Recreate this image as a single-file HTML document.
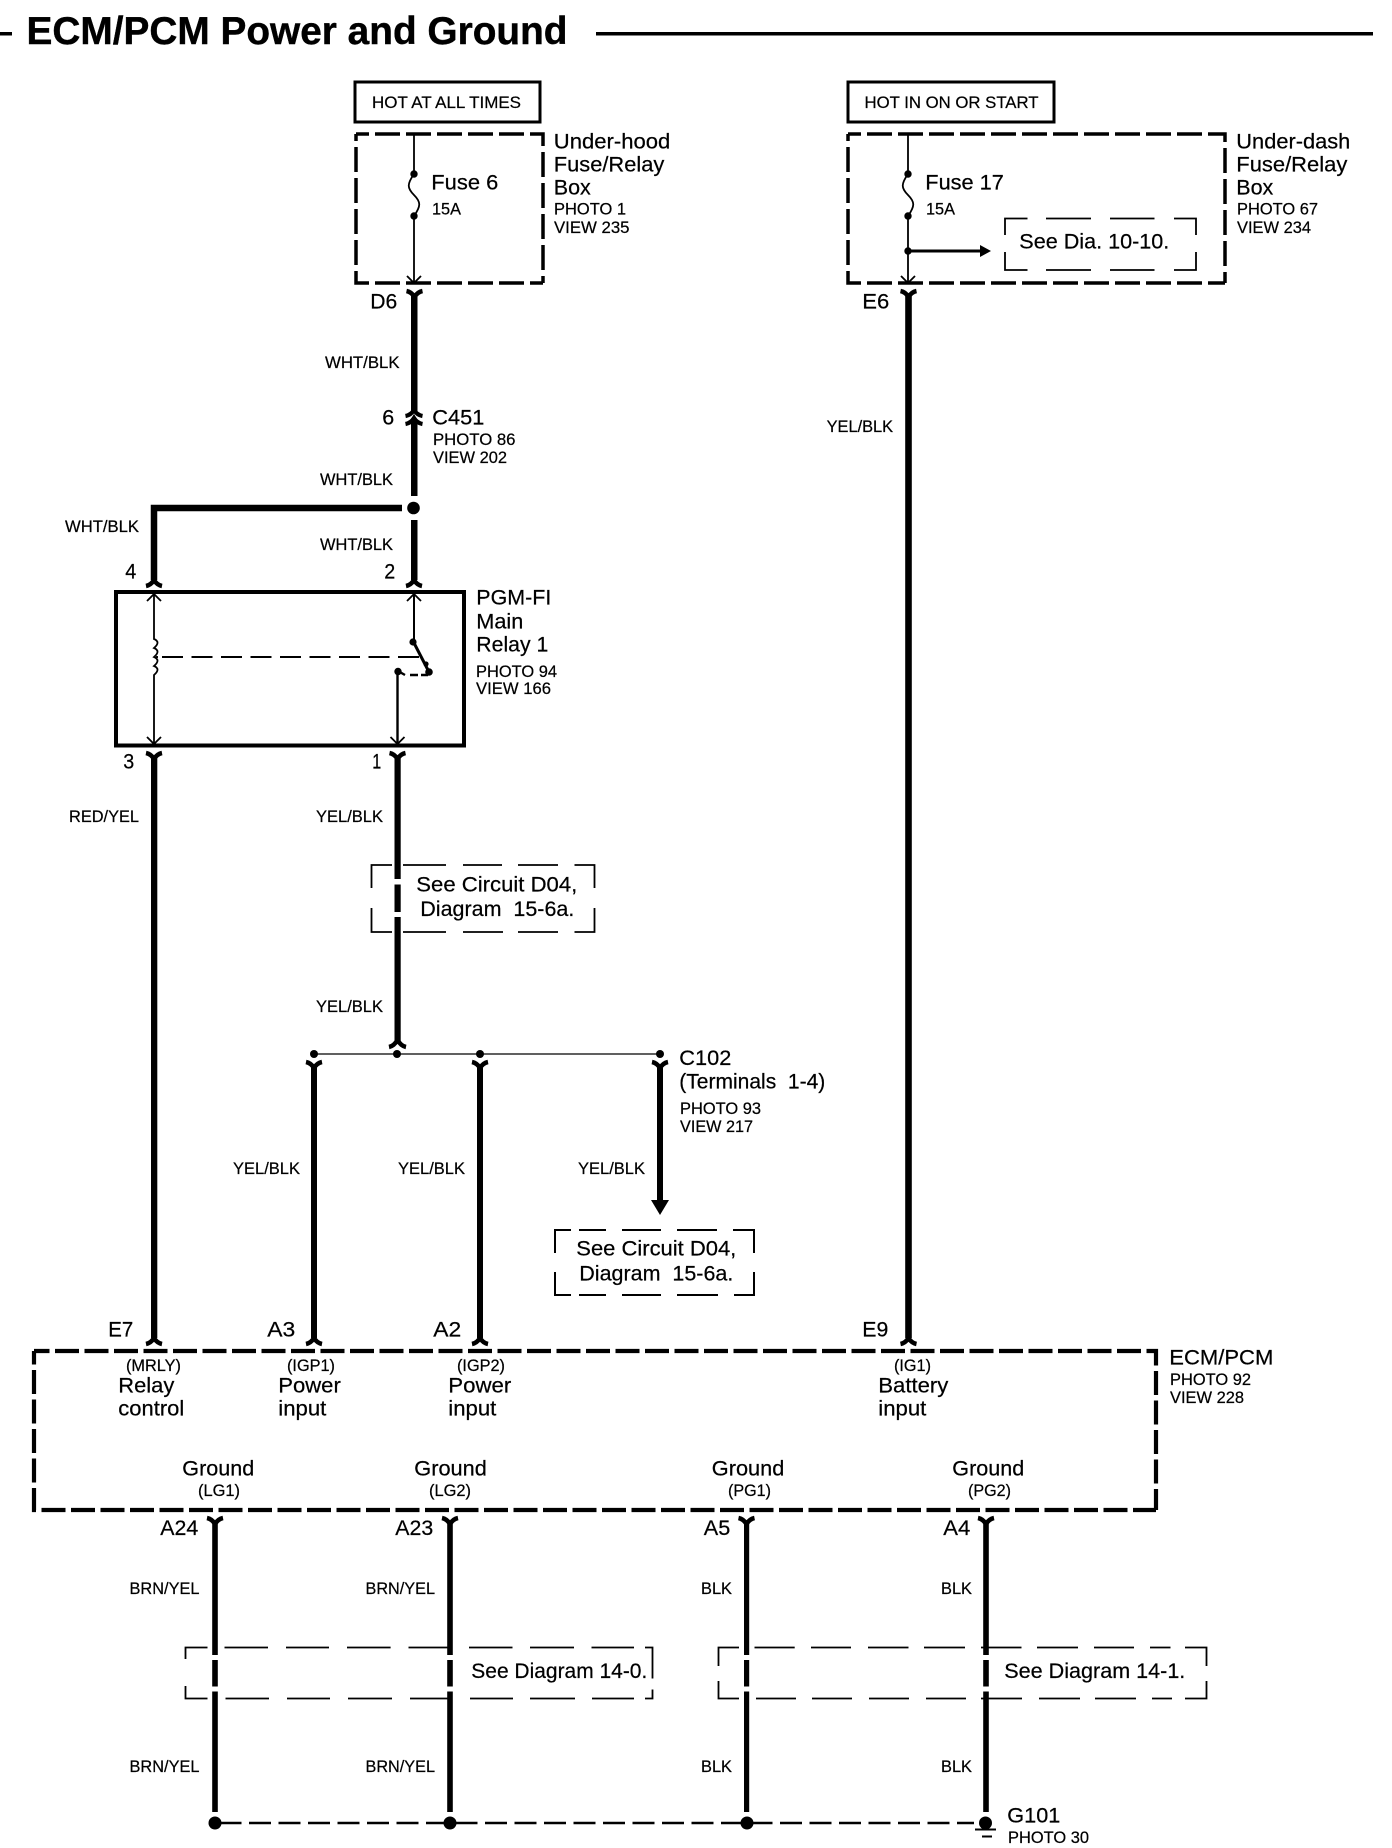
<!DOCTYPE html>
<html><head><meta charset="utf-8"><title>ECM/PCM Power and Ground</title>
<style>
html,body{margin:0;padding:0;background:#fff}
svg{display:block}
text{font-family:"Liberation Sans",sans-serif;fill:#000;stroke:#000;stroke-width:.22px}
.s{font-size:16.4px}
.m{font-size:21.5px;transform:translate(-.7px,-.5px)}
.b{font-size:38.6px;font-weight:bold;stroke-width:.4px}
</style></head><body>
<svg xmlns="http://www.w3.org/2000/svg" width="1392" height="1848" viewBox="0 0 1392 1848">
<defs>
<path id="fd" d="M-8,0 Q-3,1 0,6 Q3,1 8,0" fill="none" stroke="#000" stroke-width="4.5"/>
<path id="fu" d="M-8,8 Q-3,7 0,2 Q3,7 8,8" fill="none" stroke="#000" stroke-width="4.5"/>
<path id="ad" d="M-7,-7 L0,0 L7,-7" fill="none" stroke="#000" stroke-width="1.8"/>
<path id="au" d="M-7,7 L0,0 L7,7" fill="none" stroke="#000" stroke-width="1.8"/>
</defs>
<rect width="1392" height="1848" fill="#fff"/>

<!-- Title -->
<text class="b" x="26.5" y="44" textLength="541" lengthAdjust="spacingAndGlyphs">ECM/PCM Power and Ground</text>
<rect x="0" y="32" width="12" height="3.5"/>
<rect x="596" y="32" width="777" height="3.5"/>

<!-- Hot boxes -->
<rect x="355" y="82" width="185" height="40" fill="none" stroke="#000" stroke-width="3"/>
<text class="s" x="372" y="108" textLength="149" lengthAdjust="spacingAndGlyphs">HOT AT ALL TIMES</text>
<rect x="848" y="82" width="206" height="40" fill="none" stroke="#000" stroke-width="3"/>
<text class="s" x="864.5" y="108" textLength="174" lengthAdjust="spacingAndGlyphs">HOT IN ON OR START</text>

<!-- Under-hood box -->
<path d="M356,134 H543 V283" fill="none" stroke="#000" stroke-width="3.5" stroke-dasharray="25 6" stroke-dashoffset="12"/>
<path d="M356,134 V283 H543" fill="none" stroke="#000" stroke-width="3.5" stroke-dasharray="25 6" stroke-dashoffset="18"/>
<path d="M414,134 V174 C407,184 407,188 414,195 C421,202 421,206 414,216 V283" fill="none" stroke="#000" stroke-width="1.8"/>
<circle cx="414" cy="174" r="3.7"/><circle cx="414" cy="216" r="3.7"/>
<use href="#ad" x="414" y="283"/>
<text class="m" x="432" y="190" textLength="67" lengthAdjust="spacingAndGlyphs">Fuse 6</text>
<text class="s" x="432" y="214.6" textLength="29" lengthAdjust="spacingAndGlyphs">15A</text>
<text class="m" x="554.5" y="149" textLength="116.5" lengthAdjust="spacingAndGlyphs">Under-hood</text>
<text class="m" x="554.5" y="172.2" textLength="110.5" lengthAdjust="spacingAndGlyphs">Fuse/Relay</text>
<text class="m" x="554.5" y="195.1" textLength="37" lengthAdjust="spacingAndGlyphs">Box</text>
<text class="s" x="554" y="214.6" textLength="72" lengthAdjust="spacingAndGlyphs">PHOTO 1</text>
<text class="s" x="554" y="233" textLength="75.5" lengthAdjust="spacingAndGlyphs">VIEW 235</text>

<!-- Under-dash box -->
<path d="M848,134 H1225 V283" fill="none" stroke="#000" stroke-width="3.5" stroke-dasharray="25 6" stroke-dashoffset="12"/>
<path d="M848,134 V283 H1225" fill="none" stroke="#000" stroke-width="3.5" stroke-dasharray="25 6" stroke-dashoffset="18"/>
<path d="M908,134 V174 C901,184 901,188 908,195 C915,202 915,206 908,216 V283" fill="none" stroke="#000" stroke-width="1.8"/>
<circle cx="908" cy="174" r="3.7"/><circle cx="908" cy="216" r="3.7"/><circle cx="908" cy="251" r="3.7"/>
<use href="#ad" x="908" y="283"/>
<path d="M908,251 H981" stroke="#000" stroke-width="3" fill="none"/>
<path d="M980,245 L991,251 L980,257 Z"/>
<text class="m" x="926" y="190" textLength="78.5" lengthAdjust="spacingAndGlyphs">Fuse 17</text>
<text class="s" x="926" y="214.6" textLength="29" lengthAdjust="spacingAndGlyphs">15A</text>
<path d="M1005,235 V218.5 H1027.5 M1046,218.5 H1091 M1110,218.5 H1154.5 M1174,218.5 H1196 V235 M1005,252 V270 H1027.5 M1046,270 H1091 M1110,270 H1154.5 M1174,270 H1196 V252" fill="none" stroke="#000" stroke-width="1.8"/>
<text class="m" x="1020" y="249" textLength="150" lengthAdjust="spacingAndGlyphs">See Dia. 10-10.</text>
<text class="m" x="1237" y="149" textLength="114" lengthAdjust="spacingAndGlyphs">Under-dash</text>
<text class="m" x="1237" y="172.2" textLength="111" lengthAdjust="spacingAndGlyphs">Fuse/Relay</text>
<text class="m" x="1237" y="195.1" textLength="37" lengthAdjust="spacingAndGlyphs">Box</text>
<text class="s" x="1237" y="214.6" textLength="81" lengthAdjust="spacingAndGlyphs">PHOTO 67</text>
<text class="s" x="1237" y="233" textLength="74" lengthAdjust="spacingAndGlyphs">VIEW 234</text>

<!-- Wire x=414 -->
<use href="#fd" x="414.5" y="291"/>
<rect x="411" y="295" width="6.5" height="117"/>
<path d="M405.5,416 Q411,415 414,410 Q417,415 422.5,416" fill="none" stroke="#000" stroke-width="4.2"/>
<path d="M405.5,424 Q411,423 414,418 Q417,423 422.5,424" fill="none" stroke="#000" stroke-width="4.2"/>
<rect x="411" y="420" width="6.5" height="76"/>
<circle cx="413.5" cy="508" r="6.3"/>
<rect x="411" y="520" width="6.5" height="60"/>
<use href="#fu" x="414" y="578"/>
<text class="s" x="325" y="368" textLength="74.5" lengthAdjust="spacingAndGlyphs">WHT/BLK</text>
<text class="m" x="371" y="309" textLength="27" lengthAdjust="spacingAndGlyphs">D6</text>
<text class="m" x="383" y="425" textLength="12" lengthAdjust="spacingAndGlyphs">6</text>
<text class="m" x="433" y="425" textLength="52" lengthAdjust="spacingAndGlyphs">C451</text>
<text class="s" x="433" y="445" textLength="82.5" lengthAdjust="spacingAndGlyphs">PHOTO 86</text>
<text class="s" x="433" y="463" textLength="74" lengthAdjust="spacingAndGlyphs">VIEW 202</text>
<text class="s" x="320" y="485" textLength="73" lengthAdjust="spacingAndGlyphs">WHT/BLK</text>
<text class="s" x="320" y="550" textLength="73" lengthAdjust="spacingAndGlyphs">WHT/BLK</text>
<text class="s" x="65" y="532" textLength="74" lengthAdjust="spacingAndGlyphs">WHT/BLK</text>
<text class="m" x="126" y="579" textLength="11" lengthAdjust="spacingAndGlyphs">4</text>
<text class="m" x="385" y="579" textLength="11" lengthAdjust="spacingAndGlyphs">2</text>

<!-- Thick branch -->
<path d="M402,508 H154 V580" fill="none" stroke="#000" stroke-width="6.5"/>
<use href="#fu" x="154" y="578"/>

<!-- Relay -->
<rect x="116" y="592" width="348" height="153.5" fill="none" stroke="#000" stroke-width="4"/>
<path d="M154,594 V639 q7,3 0,9 q7,3 0,9 q7,3 0,9 q7,3 0,9 V745" fill="none" stroke="#000" stroke-width="1.8"/>
<use href="#au" x="154" y="594"/><use href="#ad" x="154" y="744"/>
<path d="M414,594 V642" fill="none" stroke="#000" stroke-width="2"/>
<use href="#au" x="414" y="594"/>
<circle cx="413" cy="642" r="3.6"/>
<path d="M413.5,642 L429,672" stroke="#000" stroke-width="3"/>
<circle cx="429" cy="672" r="3.8"/>
<circle cx="426" cy="664" r="2.6"/>
<path d="M162,657 H419" stroke="#000" stroke-width="1.9" stroke-dasharray="21 8.5" fill="none"/>
<path d="M156,657 H158" stroke="#000" stroke-width="1.9" fill="none"/>
<path d="M398,671 L405,675 M410,675 H418 M421,675 H428" stroke="#000" stroke-width="2.4" fill="none"/>
<circle cx="398" cy="671.5" r="3.7"/>
<path d="M397.5,671 V745" stroke="#000" stroke-width="2.4" fill="none"/>
<use href="#ad" x="397.5" y="744"/>
<text class="m" x="477" y="605" textLength="75" lengthAdjust="spacingAndGlyphs">PGM-FI</text>
<text class="m" x="477" y="629" textLength="47" lengthAdjust="spacingAndGlyphs">Main</text>
<text class="m" x="477" y="652" textLength="72" lengthAdjust="spacingAndGlyphs">Relay 1</text>
<text class="s" x="476" y="677" textLength="81" lengthAdjust="spacingAndGlyphs">PHOTO 94</text>
<text class="s" x="476" y="694" textLength="75" lengthAdjust="spacingAndGlyphs">VIEW 166</text>

<!-- Below relay -->
<use href="#fd" x="154" y="753"/>
<use href="#fd" x="397.5" y="753"/>
<text class="m" x="124" y="769" textLength="11" lengthAdjust="spacingAndGlyphs">3</text>
<text class="m" x="373" y="769" textLength="9" lengthAdjust="spacingAndGlyphs">1</text>
<rect x="151" y="757" width="6.3" height="581"/>
<use href="#fu" x="154" y="1336"/>
<rect x="394.5" y="757" width="6.2" height="284"/>
<path d="M389,1047 Q394,1046 397.5,1040 Q401,1046 406,1047" fill="none" stroke="#000" stroke-width="4.5"/>
<text class="s" x="69" y="822" textLength="70" lengthAdjust="spacingAndGlyphs">RED/YEL</text>
<text class="s" x="316" y="822" textLength="67" lengthAdjust="spacingAndGlyphs">YEL/BLK</text>
<text class="s" x="316" y="1012" textLength="67" lengthAdjust="spacingAndGlyphs">YEL/BLK</text>

<!-- D04 upper box -->
<rect x="392" y="879" width="11" height="5.5" fill="#fff"/>
<rect x="392" y="912" width="11" height="5" fill="#fff"/>
<path d="M371.5,888 V865 H392 M403,865 H446 M463,865 H502 M518,865 H558 M574.5,865 H594.5 V888 M371.5,908 V932 H392 M403,932 H446 M463,932 H503 M518,932 H558 M574.5,932 H594.5 V908" fill="none" stroke="#000" stroke-width="1.8"/>
<text class="m" x="417" y="892" textLength="161" lengthAdjust="spacingAndGlyphs">See Circuit D04,</text>
<text class="m" x="421" y="916.5" textLength="154" lengthAdjust="spacingAndGlyphs">Diagram&#160;&#160;15-6a.</text>

<!-- C102 bus -->
<path d="M314,1054 H660" stroke="#000" stroke-width="1.3"/>
<circle cx="314" cy="1054" r="4"/><circle cx="397" cy="1054" r="4"/><circle cx="480" cy="1054" r="4"/><circle cx="660" cy="1054" r="4"/>
<use href="#fd" x="314" y="1062"/><use href="#fd" x="480" y="1062"/><use href="#fd" x="660" y="1062"/>
<rect x="311" y="1066" width="6" height="272"/>
<rect x="477" y="1066" width="6" height="272"/>
<rect x="657" y="1066" width="6" height="135"/>
<path d="M651,1200 H669 L660,1215 Z"/>
<use href="#fu" x="314" y="1336"/><use href="#fu" x="480" y="1336"/>
<text class="m" x="680" y="1065.5" textLength="52" lengthAdjust="spacingAndGlyphs">C102</text>
<text class="m" x="680" y="1089" textLength="146" lengthAdjust="spacingAndGlyphs">(Terminals&#160;&#160;1-4)</text>
<text class="s" x="680" y="1114" textLength="81" lengthAdjust="spacingAndGlyphs">PHOTO 93</text>
<text class="s" x="680" y="1132" textLength="73" lengthAdjust="spacingAndGlyphs">VIEW 217</text>
<text class="s" x="233" y="1174" textLength="67" lengthAdjust="spacingAndGlyphs">YEL/BLK</text>
<text class="s" x="398" y="1174" textLength="67" lengthAdjust="spacingAndGlyphs">YEL/BLK</text>
<text class="s" x="578" y="1174" textLength="67" lengthAdjust="spacingAndGlyphs">YEL/BLK</text>

<!-- D04 lower box -->
<path d="M555,1253 V1230 H571 M579,1230 H606 M622,1230 H661 M677,1230 H717 M733,1230 H754 V1253 M555,1272 V1295 H571 M579,1295 H606 M622,1295 H661 M677,1295 H718 M734,1295 H754 V1272" fill="none" stroke="#000" stroke-width="2"/>
<text class="m" x="577" y="1256" textLength="160" lengthAdjust="spacingAndGlyphs">See Circuit D04,</text>
<text class="m" x="580" y="1281" textLength="154" lengthAdjust="spacingAndGlyphs">Diagram&#160;&#160;15-6a.</text>

<!-- Battery wire -->
<use href="#fd" x="908.5" y="291"/>
<rect x="905.2" y="295" width="6.6" height="1043"/>
<use href="#fu" x="908.5" y="1336"/>
<text class="s" x="826.6" y="432" textLength="66.5" lengthAdjust="spacingAndGlyphs">YEL/BLK</text>
<text class="m" x="863" y="309" textLength="27" lengthAdjust="spacingAndGlyphs">E6</text>

<!-- ECM box -->
<path d="M34,1351 H1156 V1510" fill="none" stroke="#000" stroke-width="4.2" stroke-dasharray="24 5.5" stroke-dashoffset="8.5"/>
<path d="M34,1351 V1510 H1156" fill="none" stroke="#000" stroke-width="4.2" stroke-dasharray="24 5.5" stroke-dashoffset="10.5"/>
<text class="m" x="109" y="1337" textLength="25" lengthAdjust="spacingAndGlyphs">E7</text>
<text class="m" x="268" y="1337" textLength="28" lengthAdjust="spacingAndGlyphs">A3</text>
<text class="m" x="434" y="1337" textLength="28" lengthAdjust="spacingAndGlyphs">A2</text>
<text class="m" x="863" y="1337" textLength="26" lengthAdjust="spacingAndGlyphs">E9</text>
<text class="s" x="126" y="1371" textLength="55" lengthAdjust="spacingAndGlyphs">(MRLY)</text>
<text class="m" x="119" y="1393" textLength="56" lengthAdjust="spacingAndGlyphs">Relay</text>
<text class="m" x="119" y="1416" textLength="66" lengthAdjust="spacingAndGlyphs">control</text>
<text class="s" x="287" y="1371" textLength="48" lengthAdjust="spacingAndGlyphs">(IGP1)</text>
<text class="m" x="279" y="1393" textLength="62.5" lengthAdjust="spacingAndGlyphs">Power</text>
<text class="m" x="279" y="1416" textLength="48" lengthAdjust="spacingAndGlyphs">input</text>
<text class="s" x="457" y="1371" textLength="48" lengthAdjust="spacingAndGlyphs">(IGP2)</text>
<text class="m" x="449" y="1393" textLength="63" lengthAdjust="spacingAndGlyphs">Power</text>
<text class="m" x="449" y="1416" textLength="48" lengthAdjust="spacingAndGlyphs">input</text>
<text class="s" x="894" y="1371" textLength="37" lengthAdjust="spacingAndGlyphs">(IG1)</text>
<text class="m" x="879" y="1393" textLength="70" lengthAdjust="spacingAndGlyphs">Battery</text>
<text class="m" x="879" y="1416" textLength="48" lengthAdjust="spacingAndGlyphs">input</text>
<text class="m" x="183" y="1476" textLength="72" lengthAdjust="spacingAndGlyphs">Ground</text>
<text class="s" x="198" y="1496" textLength="42" lengthAdjust="spacingAndGlyphs">(LG1)</text>
<text class="m" x="415" y="1476" textLength="72.5" lengthAdjust="spacingAndGlyphs">Ground</text>
<text class="s" x="429" y="1496" textLength="42" lengthAdjust="spacingAndGlyphs">(LG2)</text>
<text class="m" x="712.5" y="1476" textLength="72.5" lengthAdjust="spacingAndGlyphs">Ground</text>
<text class="s" x="728" y="1496" textLength="43" lengthAdjust="spacingAndGlyphs">(PG1)</text>
<text class="m" x="953" y="1476" textLength="72" lengthAdjust="spacingAndGlyphs">Ground</text>
<text class="s" x="968" y="1496" textLength="43" lengthAdjust="spacingAndGlyphs">(PG2)</text>
<text class="m" x="1170" y="1365" textLength="104" lengthAdjust="spacingAndGlyphs">ECM/PCM</text>
<text class="s" x="1170" y="1385" textLength="81" lengthAdjust="spacingAndGlyphs">PHOTO 92</text>
<text class="s" x="1170" y="1403" textLength="74" lengthAdjust="spacingAndGlyphs">VIEW 228</text>

<!-- Ground wires -->
<use href="#fd" x="215" y="1518"/><use href="#fd" x="450" y="1518"/><use href="#fd" x="746.5" y="1518"/><use href="#fd" x="986" y="1518"/>
<rect x="212.2" y="1522" width="5.6" height="290"/>
<rect x="447.2" y="1522" width="5.6" height="290"/>
<rect x="744" y="1522" width="5.2" height="290"/>
<rect x="983.2" y="1522" width="5.6" height="290"/>
<text class="m" x="161" y="1535.5" textLength="38" lengthAdjust="spacingAndGlyphs">A24</text>
<text class="m" x="396" y="1535.5" textLength="38" lengthAdjust="spacingAndGlyphs">A23</text>
<text class="m" x="704.5" y="1535.5" textLength="26.5" lengthAdjust="spacingAndGlyphs">A5</text>
<text class="m" x="944" y="1535.5" textLength="27" lengthAdjust="spacingAndGlyphs">A4</text>
<text class="s" x="129.5" y="1594" textLength="70" lengthAdjust="spacingAndGlyphs">BRN/YEL</text>
<text class="s" x="365.5" y="1594" textLength="69.5" lengthAdjust="spacingAndGlyphs">BRN/YEL</text>
<text class="s" x="701" y="1594" textLength="31" lengthAdjust="spacingAndGlyphs">BLK</text>
<text class="s" x="941" y="1594" textLength="31" lengthAdjust="spacingAndGlyphs">BLK</text>
<text class="s" x="129.5" y="1772" textLength="70" lengthAdjust="spacingAndGlyphs">BRN/YEL</text>
<text class="s" x="365.5" y="1772" textLength="69.5" lengthAdjust="spacingAndGlyphs">BRN/YEL</text>
<text class="s" x="701" y="1772" textLength="31" lengthAdjust="spacingAndGlyphs">BLK</text>
<text class="s" x="941" y="1772" textLength="31" lengthAdjust="spacingAndGlyphs">BLK</text>

<!-- wire gaps in diagram boxes -->
<rect x="210" y="1655" width="10" height="5" fill="#fff"/>
<rect x="210" y="1686.5" width="10" height="5" fill="#fff"/>
<rect x="445" y="1655" width="10" height="5" fill="#fff"/>
<rect x="445" y="1686.5" width="10" height="5" fill="#fff"/>
<rect x="741.5" y="1655" width="10" height="5" fill="#fff"/>
<rect x="741.5" y="1686.5" width="10" height="5" fill="#fff"/>
<rect x="981" y="1655" width="10" height="5" fill="#fff"/>
<rect x="981" y="1686.5" width="10" height="5" fill="#fff"/>

<!-- 14-0 box -->
<path d="M185.5,1659 V1647.5 H207.5 M224.5,1647.5 H268 M286,1647.5 H329 M347,1647.5 H390.6 M408.5,1647.5 H450 M469,1647.5 H512.5 M530,1647.5 H574 M591.5,1647.5 H634 M645,1647.5 H652.5 V1678.5 M652.5,1689.5 V1698.5 H645 M634,1698.5 H592 M575,1698.5 H530 M513,1698.5 H470 M450,1698.5 H410 M392,1698.5 H348 M330,1698.5 H287 M269,1698.5 H225.5 M207.5,1698.5 H185.5 V1686" fill="none" stroke="#000" stroke-width="1.8"/>
<text class="m" x="472" y="1678.5" textLength="176" lengthAdjust="spacingAndGlyphs">See Diagram 14-0.</text>

<!-- 14-1 box -->
<path d="M718.5,1666 V1647.5 H739 M754.5,1647.5 H794.7 M811,1647.5 H851 M868,1647.5 H908.5 M924,1647.5 H965 M981,1647.5 H1021.5 M1037,1647.5 H1078 M1094,1647.5 H1134 M1150,1647.5 H1170.5 M1185,1647.5 H1206.5 V1666 M718.5,1681 V1698.5 H739 M756,1698.5 H796 M812,1698.5 H852 M869,1698.5 H909 M926,1698.5 H966 M981,1698.5 H1022 M1039,1698.5 H1080 M1095,1698.5 H1136 M1152,1698.5 H1172 M1185,1698.5 H1206.5 V1681" fill="none" stroke="#000" stroke-width="1.8"/>
<text class="m" x="1005" y="1678.5" textLength="181" lengthAdjust="spacingAndGlyphs">See Diagram 14-1.</text>

<!-- Ground bus -->
<path d="M219.5,1823 H974" stroke="#000" stroke-width="2.6" stroke-dasharray="22 7.5" fill="none"/>
<circle cx="215" cy="1823" r="6.5"/><circle cx="450" cy="1823" r="6.5"/><circle cx="747" cy="1823" r="6.5"/><circle cx="985.5" cy="1823" r="6.5"/>
<path d="M975,1829.5 H996 M982,1836.5 H992" stroke="#000" stroke-width="2" fill="none"/>
<text class="m" x="1008" y="1823" textLength="53" lengthAdjust="spacingAndGlyphs">G101</text>
<text class="s" x="1008" y="1843" textLength="81" lengthAdjust="spacingAndGlyphs">PHOTO 30</text>
</svg>
</body></html>
